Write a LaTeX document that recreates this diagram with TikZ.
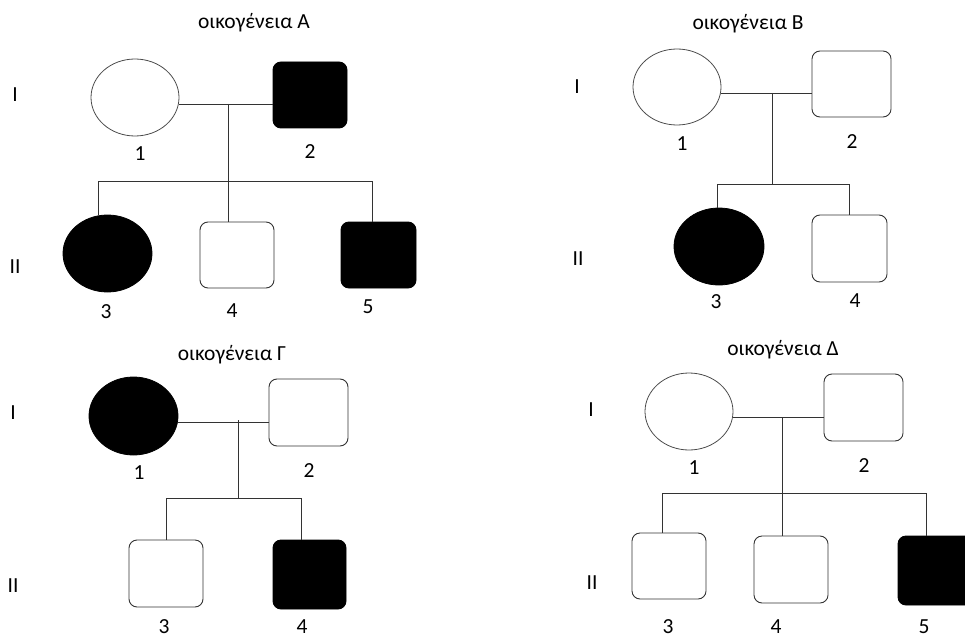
\documentclass[tikz,border=0pt]{standalone}
\usepackage{fontspec}
\setmainfont{Carlito}
\usetikzlibrary{shapes.geometric}
\begin{document}
\begin{tikzpicture}[x=1pt,y=-1pt,
  every node/.style={font=\fontsize{21.5}{24}\selectfont, text=black},
  fem/.style={ellipse, draw=black!70, line width=0.8pt, inner sep=0, minimum width=88, minimum height=77},
  male/.style={rectangle, rounded corners=8pt, draw=black!80, line width=0.9pt, inner sep=0, minimum width=74, minimum height=66},
  aff/.style={fill=black, draw=black},
  link/.style={draw=black!80, line width=0.9pt},
  lbl/.style={inner sep=0},
]
\useasboundingbox (0,0) rectangle (965,639);
% ---------------- Family A ----------------
\node[lbl] (tA) at (254,23) {οικογένεια Α};
\node[lbl] (gAI) at (15,95) {I};
\node[lbl] (gAII) at (15,267) {II};
\node[fem] (A1) at (135,97.5) {};
\node[male,aff] (A2) at (310,95) {};
\node[fem,aff,minimum width=89] (A3) at (107.5,253.5) {};
\node[male] (A4) at (237,255) {};
\node[male,aff,minimum width=75] (A5) at (378.5,255) {};
\node[lbl] (lA1) at (140,154) {1};
\node[lbl] (lA2) at (310,152) {2};
\node[lbl] (lA3) at (106,312) {3};
\node[lbl] (lA4) at (232,311) {4};
\node[lbl] (lA5) at (368,307) {5};
\coordinate (mA) at (228,104);
\coordinate (sA) at (228,181);
\coordinate (sA3) at (98,181);
\coordinate (sA5) at (372,181);
\draw[link] (A1.east |- mA) -- (A2.west |- mA);
\draw[link] (mA) -- (sA);
\draw[link] (sA3) -- (sA5);
\draw[link] (sA3) -- (sA3 |- A3.north);
\draw[link] (sA) -- (sA |- A4.north);
\draw[link] (sA5) -- (sA5 |- A5.north);
% ---------------- Family B ----------------
\node[lbl] (tB) at (748,24) {οικογένεια Β};
\node[lbl] (gBI) at (577,87) {I};
\node[lbl] (gBII) at (578,259) {II};
\node[fem,minimum height=76] (B1) at (677,87) {};
\node[male,minimum width=79] (B2) at (851.5,84) {};
\node[fem,aff,minimum width=90] (B3) at (719,246.5) {};
\node[male,minimum width=75,minimum height=67] (B4) at (849.5,248.5) {};
\node[lbl] (lB1) at (682,144) {1};
\node[lbl] (lB2) at (852,142) {2};
\node[lbl] (lB3) at (716,302) {3};
\node[lbl] (lB4) at (855,301) {4};
\coordinate (mB) at (772,93);
\coordinate (sB) at (772,184);
\coordinate (sB3) at (717,184);
\coordinate (sB4) at (849,184);
\draw[link] (B1.east |- mB) -- (B2.west |- mB);
\draw[link] (mB) -- (sB);
\draw[link] (sB3) -- (sB4);
\draw[link] (sB3) -- (sB3 |- B3.north);
\draw[link] (sB4) -- (sB4 |- B4.north);
% ---------------- Family Gamma ----------------
\node[lbl] (tC) at (232,355) {οικογένεια Γ};
\node[lbl] (gCI) at (13,413) {I};
\node[lbl] (gCII) at (13,586) {II};
\node[fem,aff,minimum width=89,minimum height=78] (C1) at (133.5,416) {};
\node[male,minimum width=79,minimum height=67] (C2) at (308.5,412.5) {};
\node[male,minimum height=67] (C3) at (166,573.5) {};
\node[male,aff,minimum width=73,minimum height=69] (C4) at (309.5,574.5) {};
\node[lbl] (lC1) at (139,473) {1};
\node[lbl] (lC2) at (309,471) {2};
\node[lbl] (lC3) at (164,627) {3};
\node[lbl] (lC4) at (302,627) {4};
\coordinate (mC) at (238,422);
\coordinate (sC) at (238,498);
\coordinate (sC3) at (166,498);
\coordinate (sC4) at (301,498);
\draw[link] (C1.east |- mC) -- (C2.west |- mC);
\draw[link] ([yshift=2]mC) -- (sC);
\draw[link] (sC3) -- (sC4);
\draw[link] (sC3) -- (sC3 |- C3.north);
\draw[link] (sC4) -- (sC4 |- C4.north);
% ---------------- Family Delta ----------------
\node[lbl] (tD) at (783,350) {οικογένεια Δ};
\node[lbl] (gDI) at (591,410) {I};
\node[lbl] (gDII) at (592,583) {II};
\node[fem] (D1) at (689,411.5) {};
\node[male,minimum width=79,minimum height=67] (D2) at (863.5,407.5) {};
\node[male] (D3) at (669,566) {};
\node[male,minimum height=67] (D4) at (791,569.5) {};
\node[male,aff,minimum width=75,minimum height=69] (D5) at (935.5,570.5) {};
\node[lbl] (lD1) at (694,468) {1};
\node[lbl] (lD2) at (864,466) {2};
\node[lbl] (lD3) at (668,627) {3};
\node[lbl] (lD4) at (776,627) {4};
\node[lbl] (lD5) at (924,627) {5};
\coordinate (mD) at (782,417);
\coordinate (sD) at (782,493);
\coordinate (sD3) at (662,493);
\coordinate (sD5) at (926,493);
\draw[link] (D1.east |- mD) -- (D2.west |- mD);
\draw[link] (mD) -- (sD);
\draw[link] (sD3) -- (sD5);
\draw[link] (sD3) -- (sD3 |- D3.north);
\draw[link] (sD) -- (sD |- D4.north);
\draw[link] (sD5) -- (sD5 |- D5.north);
\end{tikzpicture}
\end{document}
